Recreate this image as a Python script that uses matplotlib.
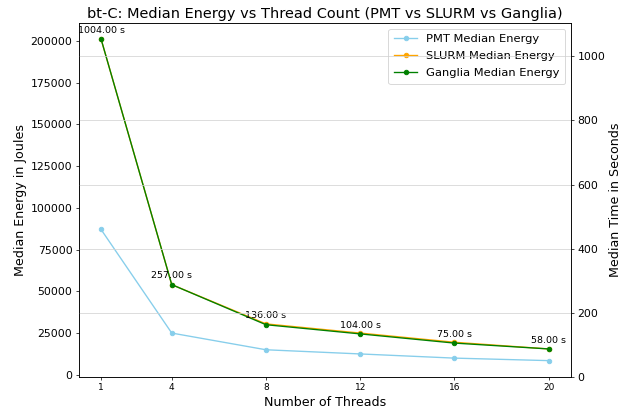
import matplotlib
matplotlib.use('Agg')
import matplotlib.pyplot as plt

# Dados extraidos do grafico
threads = [1, 4, 8, 12, 16, 20]
pmt_energy = [87000, 25000, 15000, 12500, 10000, 8500]
slurm_energy = [201000, 54000, 30500, 25000, 19500, 15500]
ganglia_energy = [201000, 54000, 30000, 24500, 19000, 15500]
median_time = [1004.0, 257.0, 136.0, 104.0, 75.0, 58.0]

DPI = 65
fig, ax1 = plt.subplots(figsize=(635 / DPI, 410 / DPI), dpi=DPI)
fig.subplots_adjust(left=78.7 / 635, right=571 / 635, top=1 - 23 / 410, bottom=1 - 376.7 / 410)

ax1.plot(threads, pmt_energy, marker='o', color='skyblue', ms=5, label='PMT Median Energy')
ax1.plot(threads, slurm_energy, marker='o', color='orange', ms=5, label='SLURM Median Energy')
ax1.plot(threads, ganglia_energy, marker='o', color='green', ms=5, label='Ganglia Median Energy')

# Tempo como anotacao sobre os pontos do Ganglia
for x, y, t in zip(threads, ganglia_energy, median_time):
    ax1.annotate(f'{t:.2f} s', (x, y), textcoords='offset points', xytext=(0, 7),
                 ha='center', fontsize=10.5)

ax1.set_xlabel('Number of Threads', fontsize=14)
ax1.set_ylabel('Median Energy in Joules', fontsize=14)
ax1.set_xticks(threads)
ax1.tick_params(axis='y', labelsize=12)
ax1.tick_params(axis='x', labelsize=10)
ax1.legend(loc='upper right', fontsize=12.7, labelspacing=0.6, borderpad=0.5)

ax2 = ax1.twinx()
ax2.set_ylim(0, max(median_time) * 1.1)
ax2.set_ylabel('Median Time in Seconds', fontsize=14)
ax2.tick_params(labelsize=12)
ax2.grid(True, color='#d0d0d0')

ax1.set_title('bt-C: Median Energy vs Thread Count (PMT vs SLURM vs Ganglia)', fontsize=16)

plt.savefig('out.png', dpi=DPI)
